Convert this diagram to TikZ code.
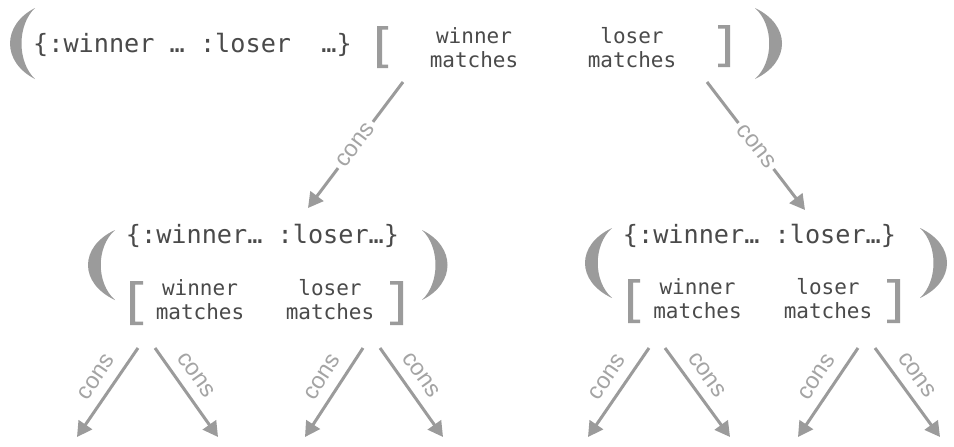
\documentclass[tikz,border=0pt]{standalone}
\usepackage{fontspec}
\setmainfont{Liberation Sans}
\setmonofont{DejaVu Sans Mono}
\usetikzlibrary{arrows.meta}
\definecolor{shapegray}{HTML}{9B9B9B}
\definecolor{textgray}{HTML}{4A4A4A}
\definecolor{labelgray}{HTML}{A4A4A4}
\tikzset{
  maptext/.style={font=\ttfamily\fontsize{25.2}{30}\selectfont, text=textgray, inner sep=0pt, anchor=base},
  vectext/.style={font=\ttfamily\fontsize{21}{24}\selectfont, text=textgray, inner sep=0pt, anchor=base},
  shapefill/.style={fill=shapegray, draw=none},
  consarrow/.style={draw=shapegray, line width=3pt, -{Triangle[length=15pt,width=16pt]}},
  conslabel/.style={font=\fontsize{23.5}{26}\selectfont, text=labelgray, inner sep=1pt, sloped},
  conscut/.style={conslabel, fill=white, inner sep=4pt, pos=0.5}
}
\newcommand\openbracket[4]{% xl xr yt yb
  \fill[shapefill] (#1,#3) -- (#2,#3) -- (#2,#3+3.5) -- (#1+5,#3+3.5) -- (#1+5,#4-3.5) -- (#2,#4-3.5) -- (#2,#4) -- (#1,#4) -- cycle;}
\newcommand\closebracket[4]{% xl xr yt yb
  \fill[shapefill] (#2,#3) -- (#1,#3) -- (#1,#3+3.5) -- (#2-5,#3+3.5) -- (#2-5,#4-3.5) -- (#1,#4-3.5) -- (#1,#4) -- (#2,#4) -- cycle;}
\newcommand\crescent[5]{% tipx ytop ybot outerctrl innerctrl
  \fill[shapefill] (#1,#2) .. controls (#4,#2+0.24*#3-0.24*#2) and (#4,#3-0.24*#3+0.24*#2) .. (#1,#3)
     .. controls (#5,#3-0.24*#3+0.24*#2) and (#5,#2+0.24*#3-0.24*#2) .. (#1,#2) -- cycle;}
\begin{document}
\begin{tikzpicture}[x=1pt,y=-1pt]
\fill[white] (0,0) rectangle (954,447);
\useasboundingbox (0,0) rectangle (954,447);

% ---------- root ----------
\crescent{35}{8}{79}{1.7}{17}
\node[maptext] (rootmap) at (192.5,52) {\{:winner … :loser\ \ …\}};
\openbracket{377}{388}{26}{68}
\node[vectext] (rootw1) at (474,43) {winner};
\node[vectext] (rootw2) at (474,67) {matches};
\node[vectext] (rootl1) at (632,43) {loser};
\node[vectext] (rootl2) at (632,67) {matches};
\closebracket{718}{730}{25}{67}
\crescent{755}{8}{79}{791}{774}

% ---------- left child ----------
\crescent{115}{230}{300}{79}{96}
\node[maptext] (lmap) at (262.5,243) {\{:winner… :loser…\}};
\openbracket{130}{143}{281}{325}
\node[vectext] (lw1) at (200,295) {winner};
\node[vectext] (lw2) at (200,319) {matches};
\node[vectext] (ll1) at (330,295) {loser};
\node[vectext] (ll2) at (330,319) {matches};
\closebracket{390}{403}{281}{325}
\crescent{422}{230}{300}{456}{440}

% ---------- right child ----------
\crescent{612}{228}{298}{576}{593}
\node[maptext] (rmap) at (759.5,243) {\{:winner… :loser…\}};
\openbracket{628}{640}{279}{323}
\node[vectext] (rw1) at (697.5,294) {winner};
\node[vectext] (rw2) at (697.5,318) {matches};
\node[vectext] (rl1) at (828,294) {loser};
\node[vectext] (rl2) at (828,318) {matches};
\closebracket{887}{900}{279}{323}
\crescent{920}{228}{298}{956}{938}

% ---------- connector end points ----------
\coordinate (ts1) at (403,82);  \coordinate (te1) at (308,208);
\coordinate (ts2) at (707,82);  \coordinate (te2) at (805,210);
\coordinate (as1) at (138,348); \coordinate (ae1) at (77,437);
\coordinate (as2) at (155,348); \coordinate (ae2) at (218,437);
\coordinate (as3) at (363,348); \coordinate (ae3) at (305,437);
\coordinate (as4) at (380,348); \coordinate (ae4) at (443,437);
\coordinate (bs1) at (649,348); \coordinate (be1) at (588,437);
\coordinate (bs2) at (665,348); \coordinate (be2) at (730,437);
\coordinate (bs3) at (858,348); \coordinate (be3) at (798,437);
\coordinate (bs4) at (875,348); \coordinate (be4) at (940,437);

% ---------- connectors ----------
\draw[consarrow] (ts1) -- node[conscut] (tl1) {cons} (te1);
\draw[consarrow] (ts2) -- node[conscut] (tl2) {cons} (te2);

\draw[consarrow] (as1) -- node[conslabel, pos=0.44, above=9pt] (al1) {cons} (ae1);
\draw[consarrow] (as2) -- node[conslabel, pos=0.42, above=9pt] (al2) {cons} (ae2);
\draw[consarrow] (as3) -- node[conslabel, pos=0.44, above=9pt] (al3) {cons} (ae3);
\draw[consarrow] (as4) -- node[conslabel, pos=0.42, above=9pt] (al4) {cons} (ae4);
\draw[consarrow] (bs1) -- node[conslabel, pos=0.44, above=9pt] (bl1) {cons} (be1);
\draw[consarrow] (bs2) -- node[conslabel, pos=0.42, above=9pt] (bl2) {cons} (be2);
\draw[consarrow] (bs3) -- node[conslabel, pos=0.44, above=9pt] (bl3) {cons} (be3);
\draw[consarrow] (bs4) -- node[conslabel, pos=0.42, above=9pt] (bl4) {cons} (be4);
\end{tikzpicture}
\end{document}
